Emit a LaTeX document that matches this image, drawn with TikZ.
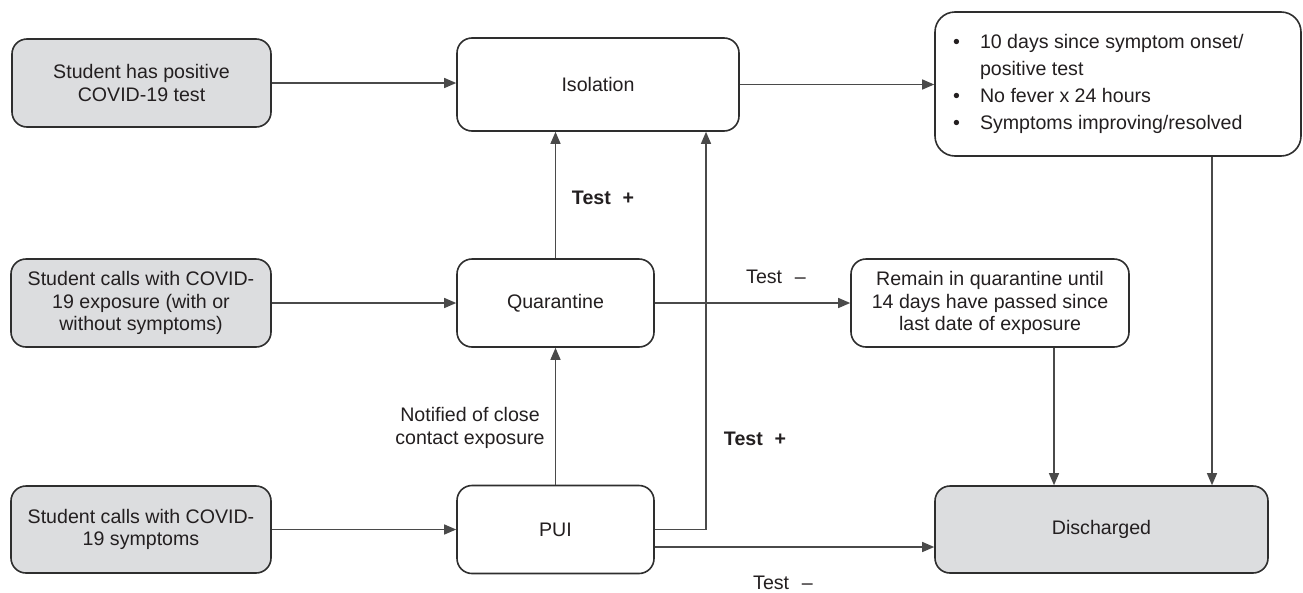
\documentclass[tikz,border=0pt]{standalone}
\usepackage{fontspec}
\setmainfont{Liberation Sans}
\usepackage{array}
\usetikzlibrary{arrows.meta}
\definecolor{txt}{HTML}{231F20}
\definecolor{boxline}{HTML}{2E2E2E}
\definecolor{conn}{HTML}{4A4A4A}
\definecolor{greyfill}{HTML}{DCDDDF}
\tikzset{
  base/.style={draw=boxline, line width=1.6pt, rounded corners=15pt, inner sep=0pt,
    text=txt, align=center, font=\fontsize{19.6}{22.5}\selectfont},
  greybox/.style={base, fill=greyfill},
  whitebox/.style={base, fill=white},
  arr/.style={draw=conn, line width=1.3pt, -{Triangle[length=12pt,width=10pt]}},
  plain/.style={draw=conn, line width=1.3pt},
  lbl/.style={inner sep=0pt, text=txt, align=center, font=\fontsize{19.6}{23}\selectfont},
  blbl/.style={lbl, font=\fontsize{19.6}{23}\selectfont\bfseries}
}
\begin{document}
\begin{tikzpicture}[x=1pt,y=-1pt]
\useasboundingbox (0,0) rectangle (1303,592);
% left column
\node[greybox, minimum width=259pt, minimum height=88pt] (pos) at (141.5,83) {Student has positive\\COVID-19 test};
\node[greybox, minimum width=260pt, minimum height=88pt] (expo) at (141,303) {Student calls with COVID-\\19 exposure (with or\\without symptoms)};
\node[greybox, minimum width=260pt, minimum height=87pt] (symp) at (141,529.5) {Student calls with COVID-\\19 symptoms};
% middle column
\node[whitebox, minimum width=282pt, minimum height=93pt] (iso) at (598,84.5) {Isolation};
\node[whitebox, minimum width=197pt, minimum height=88pt] (quar) at (555.5,303) {Quarantine};
\node[whitebox, minimum width=197pt, minimum height=88pt] (pui) at (555.5,529.5) {PUI};
% right column
\node[whitebox, minimum width=366pt, minimum height=144pt, rounded corners=20pt] (crit) at (1118,84)
{\fontsize{19.6}{27}\selectfont
\begin{tabular}{@{}p{7pt}@{\hspace{20pt}}>{\raggedright\arraybackslash}p{303pt}@{}}
\textbullet & 10 days since symptom onset/\\
 & positive test\\
\textbullet & No fever x 24 hours\\
\textbullet & Symptoms improving/resolved
\end{tabular}};
\node[whitebox, minimum width=278pt, minimum height=88pt] (remain) at (990,303) {Remain in quarantine until\\14 days have passed since\\last date of exposure};
\node[greybox, minimum width=333pt, minimum height=87pt] (dis) at (1101.5,529.5) {Discharged};
% coordinates
\coordinate (bend) at (706,529.5);
% connectors
\draw[arr] (pos.east) -- (pos.east -| iso.west);
\draw[arr] (iso.east) -- (iso.east -| crit.west);
\draw[arr] (expo.east) -- (quar.west);
\draw[arr] (symp.east) -- (pui.west);
\draw[arr] (quar.north) -- (quar.north |- iso.south);
\draw[arr] (pui.north) -- (quar.south);
\draw[arr] (pui.east) -- (bend) -- (bend |- iso.south);
\draw[arr] ([yshift=-17.5pt]pui.east) -- ([yshift=-17.5pt]pui.east -| dis.west);
\draw[arr] (quar.east) -- (remain.west);
\draw[arr] ([xshift=64pt]remain.south) -- ([xshift=64pt]remain.south |- dis.north);
\draw[arr] ([xshift=94pt]crit.south) -- ([xshift=94pt]crit.south |- dis.north);
% labels
\node[blbl] (tp1) at (603,198) {Test\hspace{0.6em}+};
\node[blbl] (tp2) at (755,439) {Test\hspace{0.6em}+};
\node[lbl] (tm1) at (776,277) {Test\hspace{0.65em}–};
\node[lbl] (tm2) at (783,583) {Test\hspace{0.65em}–};
\node[lbl] (notif) at (470,427.5) {Notified of close\\contact exposure};
\end{tikzpicture}
\end{document}
